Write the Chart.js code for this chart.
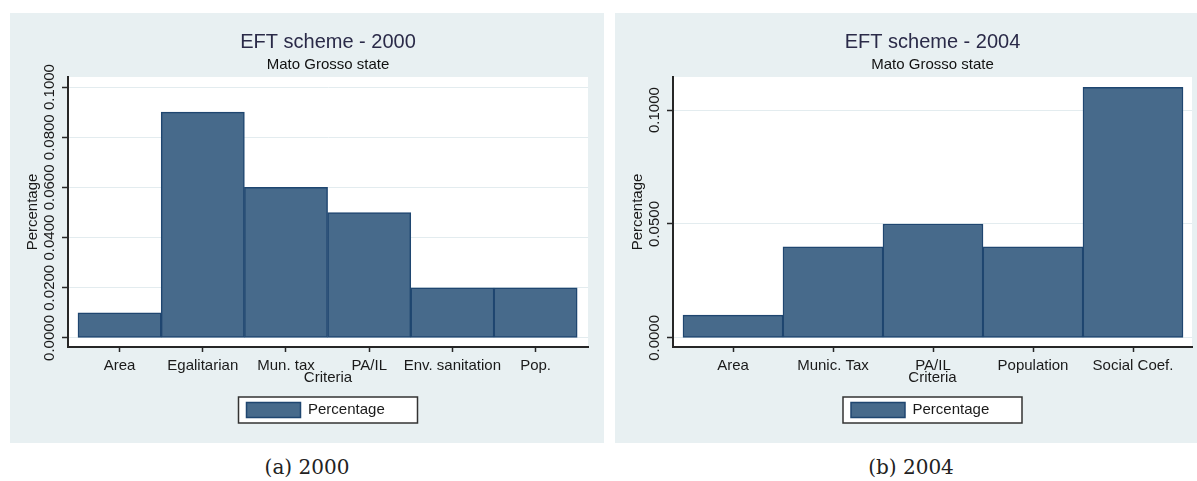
<!DOCTYPE html>
<html>
<head>
<meta charset="utf-8">
<title>EFT scheme - Mato Grosso</title>
<script src="https://cdn.jsdelivr.net/npm/chart.js@4.4.0/dist/chart.umd.min.js"></script>
<style>
  html, body { margin: 0; padding: 0; background: #ffffff; width: 1197px; height: 481px; overflow: hidden; }
  .panel { position: absolute; top: 13px; height: 430px; background: #e8f0f2; }
  #panel2000 { left: 10px; width: 594px; }
  #panel2004 { left: 615px; width: 582px; }
  .panel canvas { display: block; }
  .caption { position: absolute; top: 455px; line-height: 24px; font-family: "DejaVu Serif", "Liberation Serif", serif;
             font-size: 20px; color: #222; transform: translateX(-50%); white-space: nowrap; }
</style>
</head>
<body>
<div class="panel" id="panel2000"><canvas id="chart2000" width="594" height="430"></canvas></div>
<div class="panel" id="panel2004"><canvas id="chart2004" width="582" height="430"></canvas></div>
<div class="caption" style="left:307px">(a) 2000</div>
<div class="caption" style="left:911px">(b) 2004</div>

<script>
// ---- data ----
const criteria2000 = ['Area', 'Egalitarian', 'Mun. tax', 'PA/IL', 'Env. sanitation', 'Pop.'];
const share2000 = [0.01, 0.09, 0.06, 0.05, 0.02, 0.02];
const yTicks2000 = [0, 0.02, 0.04, 0.06, 0.08, 0.10];

const criteria2004 = ['Area', 'Munic. Tax', 'PA/IL', 'Population', 'Social Coef.'];
const share2004 = [0.01, 0.04, 0.05, 0.04, 0.11];
const yTicks2004 = [0, 0.05, 0.10];

// ---- style ----
const FONT = "'Liberation Sans', Arial, Helvetica, sans-serif";
const BAR_FILL = '#476a8b';
const BAR_EDGE = '#1f4670';
const AXIS = '#262626';
const TEXT = '#1a1a1a';
const GRID = '#e3ecef';
const LEGEND_W = 179;

Chart.defaults.font.family = FONT;

// Stata-like frame: white plot region, legend box, titles centred over the plot region
const stataFrame = {
  id: 'stataFrame',
  afterLayout(chart) {
    const ca = chart.chartArea;
    const mid = (ca.left + ca.right) / 2;
    chart.boxes.forEach(b => {
      if (b.axis) return;
      if (b === chart.legend) {
        b.left = mid - LEGEND_W / 2;
        b.right = mid + LEGEND_W / 2;
        b.width = LEGEND_W;
      } else {
        b.left = ca.left;
        b.right = ca.right;
        b.width = ca.right - ca.left;
      }
    });
  },
  beforeDraw(chart) {
    const { ctx, chartArea: ca, legend } = chart;
    ctx.save();
    ctx.fillStyle = '#ffffff';
    ctx.fillRect(ca.left, ca.top, ca.right - ca.left, ca.bottom - ca.top);
    const hit = legend && legend.legendHitBoxes && legend.legendHitBoxes[0];
    if (hit) {
      const top = hit.top + hit.height / 2 - 13;
      ctx.fillRect(legend.left, top, LEGEND_W, 26);
      ctx.strokeStyle = '#333333';
      ctx.lineWidth = 1.5;
      ctx.strokeRect(legend.left, top, LEGEND_W, 26);
    }
    ctx.restore();
  }
};

function drawScheme(canvasId, title, cats, values, yTicks, xRange, yRange, padRight) {
  return new Chart(document.getElementById(canvasId), {
    type: 'bar',
    data: {
      datasets: [{
        label: 'Percentage',
        data: cats.map((c, i) => ({ x: i, y: values[i] })),
        backgroundColor: BAR_FILL,
        borderColor: BAR_EDGE,
        borderWidth: 1.5,
        borderSkipped: false,
        barPercentage: 1,
        categoryPercentage: 1
      }]
    },
    options: {
      responsive: false,
      animation: false,
      devicePixelRatio: 1,
      layout: { padding: { left: 0, right: padRight, top: 0, bottom: 15.5 } },
      plugins: {
        title: {
          display: true, text: title, color: '#2a2a48',
          font: { family: FONT, size: 20, weight: 'normal' },
          padding: { top: 17, bottom: 0 }
        },
        subtitle: {
          display: true, text: 'Mato Grosso state', color: '#111111',
          font: { family: FONT, size: 15, weight: 'normal' },
          padding: { top: 1.5, bottom: 3.5 }
        },
        legend: {
          position: 'bottom', align: 'start',
          labels: { boxWidth: 54, boxHeight: 15, padding: 8, color: TEXT, font: { family: FONT, size: 15 } }
        },
        tooltip: { enabled: false }
      },
      scales: {
        x: {
          type: 'linear', min: xRange[0], max: xRange[1], offset: false,
          afterBuildTicks: s => { s.ticks = cats.map((c, i) => ({ value: i })); },
          afterFit: s => { s.height = 47.5; },
          ticks: {
            callback: v => cats[v], color: TEXT, font: { family: FONT, size: 15 },
            padding: 5, autoSkip: false, maxRotation: 0
          },
          grid: { display: true, drawOnChartArea: false, drawTicks: true, tickLength: 5,
                  tickColor: AXIS, tickWidth: 1.5, offset: false },
          border: { display: true, color: AXIS, width: 2 },
          title: { display: true, text: 'Criteria', color: TEXT, font: { family: FONT, size: 15 },
                   padding: { top: 0, bottom: 7.5 } }
        },
        y: {
          min: yRange[0], max: yRange[1],
          afterBuildTicks: s => { s.ticks = yTicks.map(v => ({ value: v })); },
          afterFit: s => { s.width = 58; },
          ticks: {
            minRotation: 90, maxRotation: 90, crossAlign: 'center', padding: -11,
            callback: v => Number(v).toFixed(4), color: TEXT, font: { family: FONT, size: 15 }
          },
          grid: { color: GRID, lineWidth: 1, tickLength: 6, tickColor: AXIS, tickWidth: 1.5 },
          border: { display: true, color: AXIS, width: 2 },
          title: { display: true, text: 'Percentage', color: TEXT, font: { family: FONT, size: 15 },
                   padding: { top: 14, bottom: 0 } }
        }
      }
    },
    plugins: [stataFrame]
  });
}

drawScheme('chart2000', 'EFT scheme - 2000', criteria2000, share2000, yTicks2000,
           [-0.62, 5.63], [-0.0036, 0.104], 16);
drawScheme('chart2004', 'EFT scheme - 2004', criteria2004, share2004, yTicks2004,
           [-0.6, 4.59], [-0.004, 0.1145], 5);
</script>
</body>
</html>
